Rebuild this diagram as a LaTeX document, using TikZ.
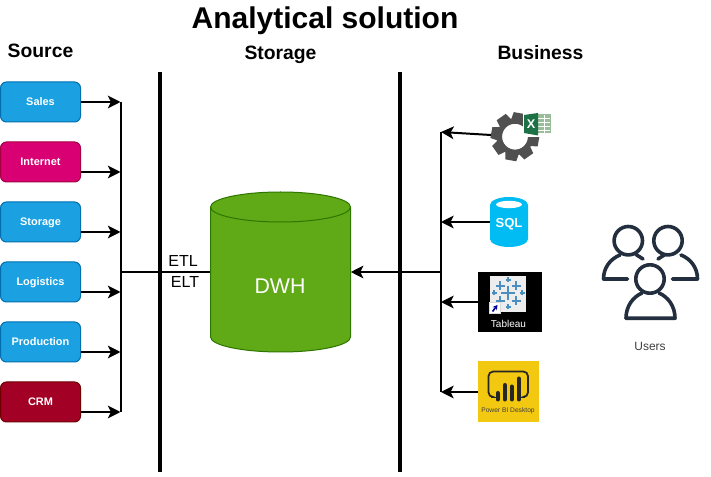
\documentclass[tikz,border=0pt]{standalone}
\usepackage{fontspec}
\setmainfont{Liberation Sans}
\usetikzlibrary{arrows.meta}
\definecolor{usr}{HTML}{232F3E}
\definecolor{gearc}{HTML}{505050}
\definecolor{tabc}{HTML}{4A8FBF}
\definecolor{bluef}{HTML}{1BA1E2}
\definecolor{blued}{HTML}{006EAF}
\definecolor{pinkf}{HTML}{D80073}
\definecolor{pinkd}{HTML}{A50040}
\definecolor{redf}{HTML}{A20025}
\definecolor{redd}{HTML}{6F0000}
\definecolor{greenf}{HTML}{60A917}
\definecolor{greend}{HTML}{2D7600}
\definecolor{sqlc}{HTML}{00BCF2}
\definecolor{xlc}{HTML}{1E7145}
\definecolor{pbic}{HTML}{F2C811}
\tikzset{
  srcbox/.style n args={2}{draw=#2, fill=#1, line width=0.75pt, rounded corners=4.5pt, minimum width=60pt, minimum height=30pt, inner sep=0pt, text=white, text height=6pt, text depth=0pt, font=\fontsize{8.2}{10}\selectfont\bfseries},
  head/.style={font=\fontsize{14.5}{16}\selectfont\bfseries, inner sep=0pt, text height=10.5pt, text depth=3pt},
  lbl/.style={font=\fontsize{12}{14}\selectfont, inner sep=0pt},
  bar/.style={line width=3pt},
  wire/.style={line width=1.5pt},
  arr/.style={line width=1.5pt, -{Stealth[length=9.5pt,width=9.5pt,inset=2.4pt]}},
  usrline/.style={draw=usr, line width=2.7pt, line cap=round, line join=round},
  tabplus/.style={draw=tabc, line width=#1}
}
\begin{document}
\begin{tikzpicture}[x=0.75pt,y=-0.75pt]
\useasboundingbox (0,0) rectangle (711,477);
\fill[white] (0,0) rectangle (711,477);
% headings
\node[font=\fontsize{22.5}{26}\selectfont\bfseries, inner sep=0pt] (title) at (325,21) {Analytical solution};
\node[head] (hsource) at (40.5,53) {Source};
\node[head] (hstorage) at (280.5,55) {Storage};
\node[head] (hbusiness) at (540.5,55) {Business};
% source boxes
\node[srcbox={bluef}{blued}] (sales) at (40.5,102) {Sales};
\node[srcbox={pinkf}{pinkd}] (internet) at (40.5,162) {Internet};
\node[srcbox={bluef}{blued}] (storage) at (40.5,222) {Storage};
\node[srcbox={bluef}{blued}] (logistics) at (40.5,282) {Logistics};
\node[srcbox={bluef}{blued}] (production) at (40.5,342) {Production};
\node[srcbox={redf}{redd}] (crm) at (40.5,402) {CRM};
% bars
\coordinate (b1t) at (160.2,72); \coordinate (b1b) at (160.2,472);
\coordinate (b2t) at (400.2,72); \coordinate (b2b) at (400.2,472);
\draw[bar] (b1t) -- (b1b);
\draw[bar] (b2t) -- (b2b);
% left bus
\coordinate (lt) at (120.5,102); \coordinate (lb) at (120.5,412);
\coordinate (l2) at (120.5,172); \coordinate (l3) at (120.5,232);
\coordinate (l4) at (120.5,292); \coordinate (l5) at (120.5,352);
\coordinate (lm) at (120.5,272);
\draw[wire] (lt) -- (lb);
\draw[arr] (sales.east) -- (lt);
\draw[arr] ([yshift=-7.5pt]internet.east) -- (l2);
\draw[arr] ([yshift=-7.5pt]storage.east) -- (l3);
\draw[arr] ([yshift=-7.5pt]logistics.east) -- (l4);
\draw[arr] ([yshift=-7.5pt]production.east) -- (l5);
\draw[arr] ([yshift=-7.5pt]crm.east) -- (lb);
% DWH (y axis points down, so angles run clockwise on the page)
\draw[greend,fill=greenf,line width=0.75pt] (210.5,207) arc[start angle=180,end angle=360,x radius=70,y radius=15] -- (350.5,337) arc[start angle=0,end angle=180,x radius=70,y radius=15] -- cycle;
\draw[greend,line width=0.75pt] (210.5,207) arc[start angle=180,end angle=0,x radius=70,y radius=15];
\node[inner sep=0pt, minimum width=105pt, minimum height=120pt] (dwh) at (280.5,272) {};
\node[inner sep=0pt, text=white, font=\fontsize{16}{18}\selectfont] (dwhlabel) at (280,286) {DWH};
\draw[wire] (lm) -- (dwh.west);
\node[lbl] (etl) at (183,261) {ETL};
\node[lbl] (elt) at (185,282) {ELT};
% right bus
\coordinate (rt) at (441,132); \coordinate (rb) at (441,392);
\coordinate (r2) at (441,222); \coordinate (r3) at (441,302);
\coordinate (rm) at (441,272);
\draw[wire] (rt) -- (rb);
\draw[arr] (rm) -- (dwh.east);
% gear
\begin{scope}[shift={(515,136.7)}]
\foreach \a in {10,55,...,325} \fill[gearc,rotate=-\a] (-5.5,-24) -- (5.5,-24) -- (7,-15) -- (-7,-15) -- cycle;
\draw[gearc,line width=4pt] (0,0) circle[radius=15.6];
\end{scope}
% excel
\fill[white] (523,112) rectangle (552,137);
\fill[green!35!black!40!white] (535,114.5) rectangle (550.5,133.5);
\foreach \yy in {118,122,126,130} \draw[white,line width=0.5pt] (538,\yy) -- (550,\yy);
\draw[white,line width=0.5pt] (544,115) -- (544,133);
\fill[xlc] (524,115) -- (538,113) -- (538,135.5) -- (524,133) -- cycle;
\node[text=white,font=\fontsize{9.5}{10}\selectfont\bfseries,inner sep=0pt] (xl) at (531,124) {X};
\coordinate (gearw) at (491,135);
\draw[arr] (gearw) -- (rt);
% SQL
\fill[sqlc] (490,205) arc[start angle=180,end angle=360,x radius=19,y radius=8] -- (528,239) arc[start angle=0,end angle=180,x radius=19,y radius=8] -- cycle;
\fill[white] (509,204.5) ellipse[x radius=13, y radius=3.7];
\node[text=white,font=\fontsize{9.8}{12}\selectfont\bfseries,inner sep=0pt] (sql) at (509,224.5) {SQL};
\coordinate (sqlw) at (490,222);
\draw[arr] (sqlw) -- (r2);
% Tableau
\fill[black] (478,272) rectangle (542,332);
\fill[white!93!black] (490,276) rectangle (526,312);
\draw[tabplus=1.6pt] (508,286) -- (508,300) (501,293) -- (515,293);
\draw[tabplus=1.3pt] (500,281.5) -- (500,290.5) (495.5,286) -- (504.5,286);
\draw[tabplus=1.3pt] (516,281.5) -- (516,290.5) (511.5,286) -- (520.5,286);
\draw[tabplus=1.3pt] (500,296.5) -- (500,305.5) (495.5,301) -- (504.5,301);
\draw[tabplus=1.3pt] (516,296.5) -- (516,305.5) (511.5,301) -- (520.5,301);
\draw[tabplus=0.8pt] (508,277.5) -- (508,282.5) (505.5,280) -- (510.5,280);
\draw[tabplus=0.8pt] (508,304.5) -- (508,309.5) (505.5,307) -- (510.5,307);
\draw[tabplus=0.8pt] (494,290.5) -- (494,295.5) (491.5,293) -- (496.5,293);
\draw[tabplus=0.8pt] (522,290.5) -- (522,295.5) (519.5,293) -- (524.5,293);
\fill[black!15] (489,302) rectangle (501,314);
\fill[white] (490,303) rectangle (500,313);
\draw[blue!60!black,line width=1.2pt,-{Stealth[length=3.5pt,width=4pt]}] (492.5,311.5) -- (497.5,305);
\node[text=white,font=\fontsize{7.5}{9}\selectfont,inner sep=0pt] (tab) at (508.5,324) {Tableau};
\coordinate (tabw) at (478,302);
\draw[arr] (tabw) -- (r3);
% Power BI
\fill[pbic] (478,361) rectangle (539,422);
\draw[black!85,line width=1.3pt,rounded corners=3.5pt] (491,397) -- (488.5,397) -- (488.5,371.5) -- (528,371.5) -- (528,397) -- (525,397);
\foreach \xx/\yy in {497.7/393,504.7/385,511.7/386.5,518.7/378.5}
  \draw[black!85,line width=3pt,line cap=round] (\xx,\yy) -- (\xx,399.5);
\node[text=black!75,font=\fontsize{5}{6}\selectfont,inner sep=0pt] (pbi) at (508,411) {Power BI Desktop};
\coordinate (pbiw) at (478,392);
\draw[arr] (pbiw) -- (rb);
% Users
\draw[usrline] (628.3,240.7) circle[radius=14.2];
\draw[usrline] (668,240.7) circle[radius=14.2];
\draw[usrline] (650,279) circle[radius=14.2];
\draw[usrline] (627.5,279) -- (603.5,279) .. controls (603.5,268) and (610,259) .. (620,255);
\draw[usrline] (636,254.5) -- (643,259);
\draw[usrline] (672.5,279) -- (697.5,279) .. controls (697.5,268) and (691,259) .. (681,255);
\draw[usrline] (665,254.5) -- (658,259);
\draw[usrline] (626,318.3) -- (675,318.3) .. controls (675,306) and (668,297) .. (659,293);
\draw[usrline] (626,318.3) .. controls (626,306) and (633,297) .. (642,293);
\node[text=black!75,font=\fontsize{9}{10}\selectfont,inner sep=0pt] (users) at (650,346) {Users};
\end{tikzpicture}
\end{document}
